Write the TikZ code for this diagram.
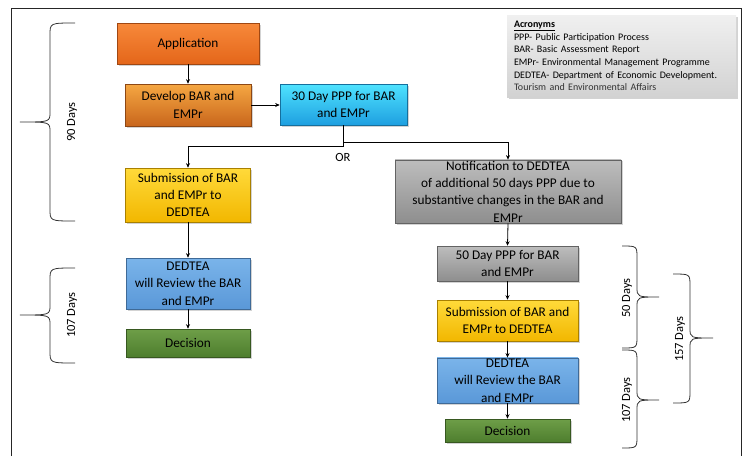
\documentclass[tikz,border=0pt]{standalone}
\usepackage{fontspec}
\setmainfont{Carlito}
\usetikzlibrary{arrows.meta,shadows}

% box colours
\definecolor{apptop}{HTML}{F7893A} \definecolor{appbot}{HTML}{E4661A}
\definecolor{devtop}{HTML}{F5A742} \definecolor{devbot}{HTML}{C9661C}
\definecolor{ppptop}{HTML}{4FE3FF} \definecolor{pppbot}{HTML}{1E9FE0}
\definecolor{subtop}{HTML}{FFDA3A} \definecolor{subbot}{HTML}{F2B700}
\definecolor{revtop}{HTML}{7AB4EA} \definecolor{revbot}{HTML}{5A98D8}
\definecolor{dectop}{HTML}{6E9E48} \definecolor{decbot}{HTML}{4E7E2E}
\definecolor{nottop}{HTML}{BDBDBD} \definecolor{notbot}{HTML}{8E8E8E}
\definecolor{acrtop}{HTML}{F0F0F0} \definecolor{acrbot}{HTML}{D2D2D2}

\tikzset{
    stage/.style={rectangle, draw=#1, line width=0.6pt, align=center, inner sep=1pt,
        font=\fontsize{13.3}{17.3}\selectfont,
        drop shadow={shadow xshift=1.5pt, shadow yshift=-1.5pt, opacity=0.35}},
    appbox/.style={stage=appbot!70!black, top color=apptop, bottom color=appbot},
    devbox/.style={stage=devbot!70!black, top color=devtop, bottom color=devbot},
    pppbox/.style={stage=pppbot!70!black, top color=ppptop, bottom color=pppbot},
    subbox/.style={stage=subbot!70!black, top color=subtop, bottom color=subbot},
    revbox/.style={stage=revbot!70!black, top color=revtop, bottom color=revbot},
    decbox/.style={stage=decbot!70!black, top color=dectop, bottom color=decbot},
    notbox/.style={stage=notbot!70!black, top color=nottop, bottom color=notbot},
    flow/.style={-{Stealth[length=4.5pt,width=4pt]}, line width=0.8pt},
    daysbrace/.style={line width=0.8pt, black!80},
    dayslabel/.style={rotate=90, font=\fontsize{12.5}{14}\selectfont},
}

% brace: ends x, spine x, tip x, top y, tip y, bottom y
\newcommand{\daybrace}[6]{%
    \draw[daysbrace] (#1,#4) .. controls (#2,#4) .. (#2,#4+12) -- (#2,#5-10)
        .. controls (#2,#5) .. (#3,#5) .. controls (#2,#5) .. (#2,#5+10)
        -- (#2,#6-12) .. controls (#2,#6) .. (#1,#6);}

\begin{document}
\begin{tikzpicture}[x=1pt, y=-1pt]

    \useasboundingbox (0,0) rectangle (745,456);

    % Frame
    \draw[line width=1pt, black!85] (11,456) -- (11,8) -- (741,8) -- (741,456);

    % Acronyms
    \node[rectangle, top color=acrtop, bottom color=acrbot, align=left, text width=215,
          inner xsep=7, minimum height=82, font=\fontsize{10}{12.6}\selectfont,
          drop shadow={shadow xshift=1.5pt, shadow yshift=-1.5pt, opacity=0.35}]
        (acro) at (621.5,56) {\textbf{\underline{Acronyms}}\\
        PPP- Public Participation Process\\
        BAR- Basic Assessment Report\\
        EMPr- Environmental Management Programme\\
        DEDTEA- Department of Economic Development.\\
        \textcolor{black!80}{Tourism and Environmental Affairs}};

    % Left column
    \node[appbox, minimum width=142, minimum height=41] (app) at (188,43.5) {Application};
    \node[devbox, minimum width=126, minimum height=42] (dev) at (188,105) {Develop BAR and\\EMPr};
    \node[pppbox, minimum width=127, minimum height=41] (ppp30) at (343.5,104.5) {30 Day PPP for BAR\\and EMPr};
    \node[subbox, minimum width=125, minimum height=54] (subA) at (188,195) {Submission of BAR\\and EMPr to\\DEDTEA};
    \node[revbox, minimum width=124, minimum height=51] (revA) at (188,283.5) {DEDTEA\\will Review the BAR\\and EMPr};
    \node[decbox, minimum width=124, minimum height=28] (decA) at (188,343) {Decision};

    % Right column
    \node[notbox, minimum width=226, minimum height=63] (notif) at (508,191.5)
        {Notification to DEDTEA\\of additional 50 days PPP due to\\substantive changes in the BAR and\\EMPr};
    \node[notbox, minimum width=141, minimum height=35] (ppp50) at (507.5,263.5) {50 Day PPP for BAR\\and EMPr};
    \node[subbox, minimum width=141, minimum height=41] (subB) at (507.5,320.5) {Submission of BAR and\\EMPr to DEDTEA};
    \node[revbox, minimum width=141, minimum height=45] (revB) at (507.5,380.5) {DEDTEA\\will Review the BAR\\and EMPr};
    \node[decbox, minimum width=125, minimum height=23] (decB) at (507.5,430.5) {Decision};

    \node[font=\fontsize{12.5}{14}\selectfont] (or) at (343,157) {OR};

    % Connectors
    \draw[flow] (app.south) -- (dev.north);
    \draw[flow] (dev.east) -- (dev.east -| ppp30.west);
    \draw[flow] (ppp30.south) -- ++(0,21) -| (subA.north);
    \draw[flow] (ppp30.south) -- ++(0,17) -| (notif.north);
    \draw[flow] (subA.south) -- (revA.north);
    \draw[flow] (revA.south) -- (decA.north);
    \draw[flow] (notif.south) -- (ppp50.north);
    \draw[flow] (ppp50.south) -- (subB.north);
    \draw[flow] (subB.south) -- (revB.north);
    \draw[flow] (revB.south) -- (decB.north);

    % Braces
    \daybrace{75}{50}{20}{23}{122}{221}
    \daybrace{75}{50}{20}{268}{315}{363}
    \daybrace{622}{637}{659}{246}{297}{348}
    \daybrace{622}{637}{659}{350}{400}{448}
    \daybrace{673}{690}{713}{274}{338}{403}

    \node[dayslabel] (d90) at (72,122) {90 Days};
    \node[dayslabel] (d107a) at (72,315) {107 Days};
    \node[dayslabel] (d50) at (627,298) {50 Days};
    \node[dayslabel] (d107b) at (627,400) {107 Days};
    \node[dayslabel] (d157) at (680,339) {157 Days};

\end{tikzpicture}
\end{document}
